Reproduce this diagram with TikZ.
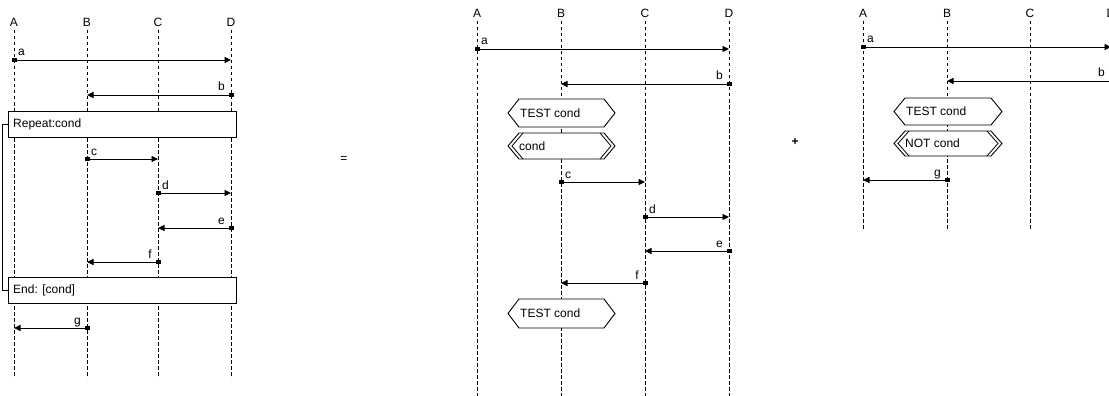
\documentclass[tikz,border=0pt]{standalone}
\usepackage{fontspec}
\setmainfont{Liberation Sans}
\usetikzlibrary{arrows.meta,calc}
\tikzset{
  life/.style={draw, line width=0.8pt, dash pattern=on 3.5pt off 2.5pt},
  msg/.style={draw, line width=0.9pt, -{Triangle[length=6.5pt,width=6pt]}},
  txt/.style={font=\fontsize{12}{14}\selectfont, inner sep=0pt},
  dot/.style={fill, draw=none, rectangle, minimum width=5pt, minimum height=3.5pt, inner sep=0pt},
  frame/.style={draw, fill=white, line width=0.9pt},
  hexline/.style={draw, line width=0.8pt},
}
\newcommand\msgright[5]{%
  \coordinate (#1s) at (#2 |- 0,#4);
  \coordinate (#1e) at (#3 |- 0,#4);
  \node[dot] (#1d) at (#1s) {};
  \draw[msg] (#1d.center) -- (#1e);
  \node[txt, anchor=base west] (#1l) at ([shift={(4,-4)}]#1s) {#5};
}
\newcommand\msgleft[5]{%
  \coordinate (#1s) at (#2 |- 0,#4);
  \coordinate (#1e) at (#3 |- 0,#4);
  \node[dot] (#1d) at (#1s) {};
  \draw[msg] (#1d.center) -- (#1e);
  \node[txt, anchor=base east] (#1l) at ([shift={(-6,-4)}]#1s) {#5};
}
% single hexagon: name, xl, xr, ytop, ybot, text
\newcommand\hexa[6]{%
  \draw[frame] (#2,{(#4+#5)/2}) -- (#2+11,#4) -- (#3-11,#4) -- (#3,{(#4+#5)/2}) -- (#3-11,#5) -- (#2+11,#5) -- cycle;
  \node[txt, anchor=west] (#1) at (#2+12,{(#4+#5)/2}) {#6};
}
% double hexagon
\newcommand\dhexa[6]{%
  \draw[frame] (#2,{(#4+#5)/2}) -- (#2+11,#4) -- (#3-11,#4) -- (#3,{(#4+#5)/2}) -- (#3-11,#5) -- (#2+11,#5) -- cycle;
  \draw[hexline] (#2+15,#4) -- (#2+4,{(#4+#5)/2}) -- (#2+15,#5);
  \draw[hexline] (#3-15,#4) -- (#3-4,{(#4+#5)/2}) -- (#3-15,#5);
  \node[txt, anchor=west] (#1) at (#2+11,{(#4+#5)/2}) {#6};
}
\begin{document}
\begin{tikzpicture}[x=1pt,y=-1pt]
\useasboundingbox[fill=white] (0,0) rectangle (1109,396);

% ---------- left diagram ----------
\foreach \n/\x in {A/14,B/87,C/158,D/231}{
  \node[txt] (L\n h) at (\x,22) {\n};
  \coordinate (L\n) at (\x,30);
  \coordinate (L\n b) at (\x,378);
  \draw[life] (L\n) -- (L\n b);
}
\msgright{La}{LA}{LD}{60}{a}
\msgleft{Lb}{LD}{LB}{95}{b}
\node[frame, anchor=north west, minimum width=228pt, minimum height=26pt, inner sep=0pt] (rep) at (8,111) {};
\node[txt, anchor=west] (reptxt) at (13,124) {Repeat:cond};
\msgright{Lc}{LB}{LC}{159}{c}
\msgright{Ld}{LC}{LD}{193}{d}
\msgleft{Le}{LD}{LC}{228}{e}
\msgleft{Lf}{LC}{LB}{262}{f}
\node[frame, anchor=north west, minimum width=228pt, minimum height=26pt, inner sep=0pt] (endb) at (8,277) {};
\node[txt, anchor=west] (endtxt) at (13,290) {End: [cond]};
\draw[line width=0.9pt] (rep.west) -- ++(-6,0) |- (endb.west);
\msgleft{Lg}{LB}{LA}{328}{g}

% ---------- equals ----------
\node[txt] (eq) at (344,160) {=};

% ---------- middle diagram ----------
\foreach \n/\x in {A/477,B/561,C/645,D/729}{
  \node[txt] (M\n h) at (\x,13) {\n};
  \coordinate (M\n) at (\x,21);
  \coordinate (M\n b) at (\x,396);
  \draw[life] (M\n) -- (M\n b);
}
\msgright{Ma}{MA}{MD}{49}{a}
\msgleft{Mb}{MD}{MB}{84}{b}
\hexa{Mt1}{508}{615}{99}{127}{TEST cond}
\dhexa{Mc1}{508}{615}{133}{159}{cond}
\msgright{Mc}{MB}{MC}{182}{c}
\msgright{Md}{MC}{MD}{217}{d}
\msgleft{Me}{MD}{MC}{251}{e}
\msgleft{Mf}{MC}{MB}{283}{f}
\hexa{Mt2}{508}{615}{299}{328}{TEST cond}

% ---------- plus ----------
\node[txt, font=\fontsize{12}{14}\selectfont\bfseries] (plus) at (795,142) {+};

% ---------- right diagram ----------
\foreach \n/\x in {A/863,B/947,C/1030,D/1111}{
  \node[txt] (R\n h) at (\x,13) {\n};
  \coordinate (R\n) at (\x,21);
  \coordinate (R\n b) at (\x,229);
  \draw[life] (R\n) -- (R\n b);
}
\msgright{Ra}{RA}{RD}{47}{a}
\msgleft{Rb}{RD}{RB}{81}{b}
\hexa{Rt1}{894}{1002}{98}{125}{TEST cond}
\dhexa{Rn1}{894}{1002}{131}{156}{NOT cond}
\msgleft{Rg}{RB}{RA}{180}{g}
\end{tikzpicture}
\end{document}
